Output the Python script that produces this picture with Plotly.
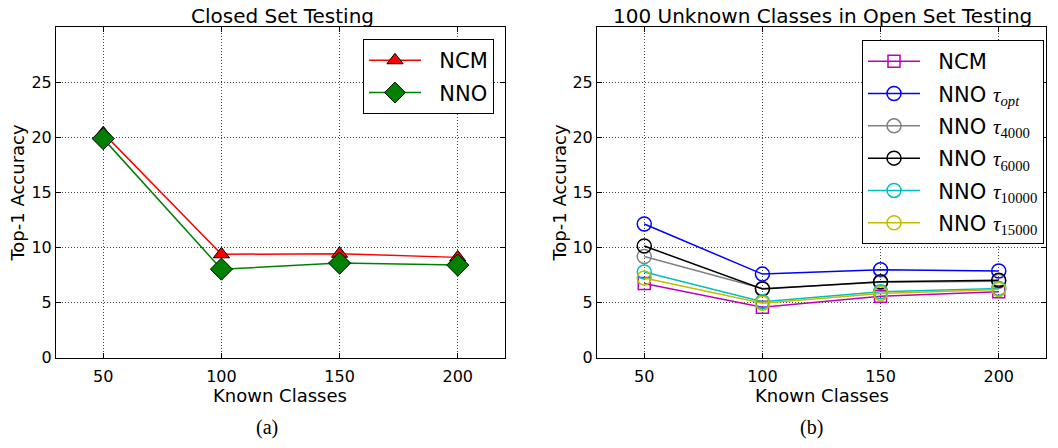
import plotly.graph_objects as go

known_classes = [50, 100, 150, 200]

# Closed set testing
closed_ncm = [20.4, 9.4, 9.45, 9.12]
closed_nno = [19.9, 8.05, 8.6, 8.42]

# Open set testing (100 unknown classes)
open_ncm = [6.75, 4.6, 5.6, 6.0]
open_nno_opt = [12.15, 7.6, 8.0, 7.88]
open_nno_4000 = [9.2, 6.3, 6.85, 6.95]
open_nno_6000 = [10.15, 6.25, 6.9, 7.05]
open_nno_10000 = [7.8, 5.1, 6.0, 6.3]
open_nno_15000 = [7.25, 4.95, 5.85, 6.2]

y_ticks = [0, 5, 10, 15, 20, 25]
x_ticks = [50, 100, 150, 200]

W, H = 1058, 448
def px(x):
    return x / W
def py(y):
    return 1 - y / H

SERIF = "Liberation Serif"
SANS = "DejaVu Sans"
PAD = "&nbsp;&nbsp;"

def tau(sub, italic=False):
    s = f"<i>{sub}</i>" if italic else sub
    return f"{PAD}NNO <span style='font-family:{SERIF}'><i>τ</i><sub>{s}</sub></span>"

fig = go.Figure()

# Left panel
fig.add_trace(go.Scatter(
    x=known_classes, y=closed_ncm, name=PAD + "NCM", mode="lines+markers",
    line=dict(color="red", width=1.5),
    marker=dict(symbol="triangle-up", size=14, color="red", line=dict(color="black", width=1)),
    xaxis="x", yaxis="y", legend="legend", legendgroup="a1"))
fig.add_trace(go.Scatter(
    x=known_classes, y=closed_nno, name=PAD + "NNO", mode="lines+markers",
    line=dict(color="green", width=1.5),
    marker=dict(symbol="diamond", size=17, color="green", line=dict(color="black", width=1)),
    xaxis="x", yaxis="y", legend="legend", legendgroup="a2"))

# Right panel
series = [
    (PAD + "NCM", open_ncm, "#bf00bf", "square-open", 12),
    (tau("opt", True), open_nno_opt, "blue", "circle-open", 14),
    (tau("4000"), open_nno_4000, "gray", "circle-open", 14),
    (tau("6000"), open_nno_6000, "black", "circle-open", 14),
    (tau("10000"), open_nno_10000, "#00bfbf", "circle-open", 14),
    (tau("15000"), open_nno_15000, "#bfbf00", "circle-open", 14),
]
for i, (name, vals, col, sym, sz) in enumerate(series):
    fig.add_trace(go.Scatter(
        x=known_classes, y=vals, name=name, mode="lines+markers",
        line=dict(color=col, width=1.5),
        marker=dict(symbol=sym, size=sz, color=col, line=dict(color=col, width=1.5)),
        xaxis="x2", yaxis="y2", legend="legend2", legendgroup=f"b{i}"))

axis_common = dict(
    showline=True, linecolor="black", linewidth=1, mirror="allticks",
    ticks="inside", ticklen=5, tickcolor="black",
    showgrid=True, gridcolor="#444", griddash="1px,2px", gridwidth=1,
    zeroline=False, tickfont=dict(family=SANS, size=16, color="black"),
)

fig.update_layout(
    width=W, height=H,
    margin=dict(l=0, r=0, t=0, b=0),
    paper_bgcolor="white", plot_bgcolor="white",
    font=dict(family=SANS, color="black"),
    xaxis=dict(domain=[px(56), px(505)], range=[30, 220], tickvals=x_ticks, anchor="y",
               ticklabelstandoff=4, **axis_common),
    yaxis=dict(domain=[py(366), py(28)], range=[0, 30], tickvals=y_ticks, anchor="x", **axis_common),
    xaxis2=dict(domain=[px(597), px(1046)], range=[30, 220], tickvals=x_ticks, anchor="y2",
                ticklabelstandoff=4, **axis_common),
    yaxis2=dict(domain=[py(366), py(28)], range=[0, 30], tickvals=y_ticks, anchor="x2", **axis_common),
    legend=dict(x=px(494), y=py(40), xanchor="right", yanchor="top",
                bgcolor="white", bordercolor="black", borderwidth=1,
                font=dict(family=SANS, size=21, color="black"), itemwidth=52,
                tracegroupgap=2),
    legend2=dict(x=px(1044), y=py(41), xanchor="right", yanchor="top",
                 bgcolor="white", bordercolor="black", borderwidth=1,
                 font=dict(family=SANS, size=21, color="black"), itemwidth=52,
                 tracegroupgap=2),
    showlegend=True,
)

annots = [
    dict(text="Closed Set Testing", x=px(282), y=py(16), size=20, angle=0, fam=SANS),
    dict(text="100 Unknown Classes in Open Set Testing", x=px(822), y=py(16), size=20, angle=0, fam=SANS),
    dict(text="Known Classes", x=px(280), y=py(405), size=18, angle=0, fam=SANS),
    dict(text="Known Classes", x=px(822), y=py(405), size=18, angle=0, fam=SANS),
    dict(text="Top-1 Accuracy", x=px(18), y=py(197), size=18, angle=-90, fam=SANS),
    dict(text="Top-1 Accuracy", x=px(560), y=py(197), size=18, angle=-90, fam=SANS),
    dict(text="(a)", x=px(267), y=py(437), size=20, angle=0, fam=SERIF),
    dict(text="(b)", x=px(811), y=py(437), size=20, angle=0, fam=SERIF),
]
for a in annots:
    fig.add_annotation(text=a["text"], x=a["x"], y=a["y"], xref="paper", yref="paper",
                       showarrow=False, textangle=a["angle"], xanchor="center", yanchor="middle",
                       font=dict(family=a["fam"], size=a["size"], color="black"))

fig.write_html("out.html")
